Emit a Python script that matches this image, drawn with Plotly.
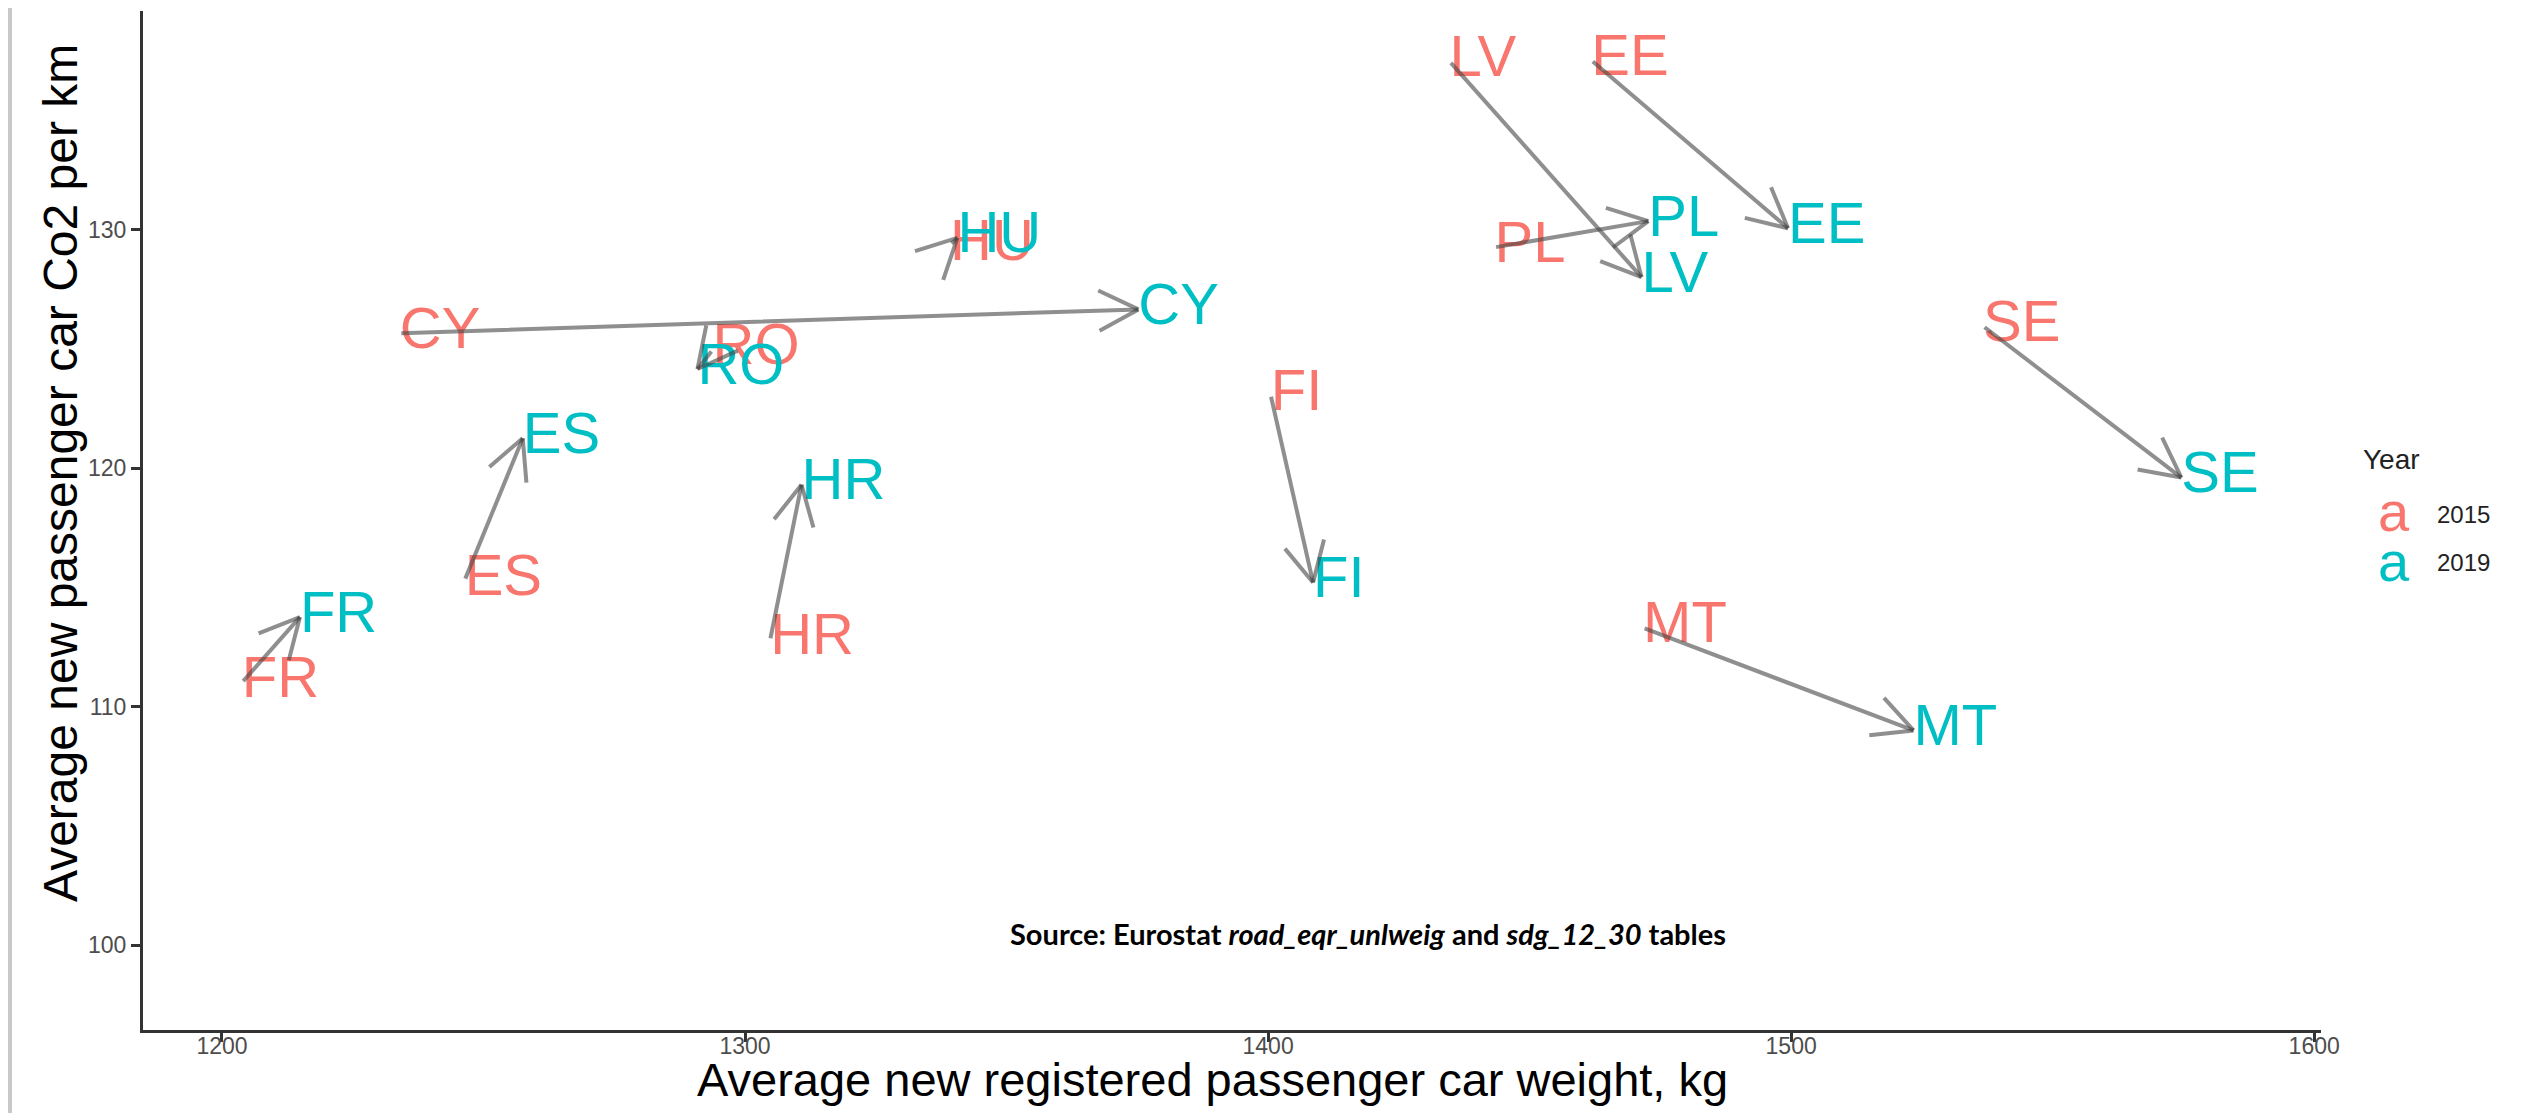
import math
import plotly.graph_objects as go

# ---- data ----
countries = ["FR", "ES", "CY", "RO", "HU", "HR", "FI", "LV", "EE", "PL", "SE", "MT"]
weight_2015 = [1203.8, 1246.4, 1234.0, 1293.8, 1339.2, 1304.8, 1400.5, 1434.7, 1461.8, 1443.3, 1536.7, 1471.7]
weight_2019 = [1214.9, 1257.5, 1375.2, 1290.9, 1340.6, 1310.8, 1408.6, 1471.4, 1499.4, 1472.7, 1574.6, 1523.4]
co2_2015 = [111.0, 115.3, 125.65, 124.95, 129.35, 112.8, 123.05, 137.05, 137.1, 129.25, 125.95, 113.3]
co2_2019 = [113.75, 121.25, 126.65, 124.15, 129.65, 119.3, 115.2, 128.0, 130.05, 130.35, 119.6, 109.0]
years = ["2015", "2019"]
year_colors = ["#F8766D", "#00BFC4"]
x_ticks = [1200, 1300, 1400, 1500, 1600]
y_ticks = [100, 110, 120, 130]
x_range = [1184.9, 1601.3]
y_range = [96.44, 139.16]
source_x, source_y = 1419.1, 100.5

FONT = "Liberation Sans, Arial, sans-serif"
L, T, PW, PH = 135, 3, 2178, 1019
W, H = 2526, 1113


def px(xpix):
    return (xpix - L) / PW


def py(ypix):
    return (T + PH - ypix) / PH


fig = go.Figure()

for yr, col, xs, ys in [(years[0], year_colors[0], weight_2015, co2_2015),
                        (years[1], year_colors[1], weight_2019, co2_2019)]:
    fig.add_trace(go.Scatter(
        x=xs, y=ys, mode="text", text=countries, name=yr,
        textposition="middle right",
        textfont=dict(family=FONT, size=58, color=col),
        showlegend=False, hoverinfo="skip", cliponaxis=False,
    ))

ARROW_COL = "rgba(70,70,70,0.6)"
ARROW_W = 4
BARB_LEN = 46
BARB_ANG = math.radians(27)
sx = PW / (x_range[1] - x_range[0])
sy = PH / (y_range[1] - y_range[0])

annotations = []
for i in range(len(countries)):
    # shaft
    annotations.append(dict(
        x=weight_2019[i], y=co2_2019[i], ax=weight_2015[i], ay=co2_2015[i],
        xref="x", yref="y", axref="x", ayref="y",
        text="", showarrow=True, arrowhead=0, arrowwidth=ARROW_W,
        arrowcolor=ARROW_COL, standoff=0, startstandoff=0,
    ))
    # open arrow head (two barbs), direction taken from the segment on screen
    dx = (weight_2019[i] - weight_2015[i]) * sx
    dy = -(co2_2019[i] - co2_2015[i]) * sy
    n = math.hypot(dx, dy) or 1.0
    bx, by = -dx / n, -dy / n
    for s in (1, -1):
        c, sn = math.cos(s * BARB_ANG), math.sin(s * BARB_ANG)
        rx, ry = bx * c - by * sn, bx * sn + by * c
        annotations.append(dict(
            x=weight_2019[i], y=co2_2019[i], xref="x", yref="y",
            ax=rx * BARB_LEN, ay=ry * BARB_LEN,
            text="", showarrow=True, arrowhead=0, arrowwidth=ARROW_W,
            arrowcolor=ARROW_COL, standoff=0, startstandoff=0,
        ))

# source note
annotations.append(dict(
    x=source_x, y=source_y, xref="x", yref="y", showarrow=False,
    text="<b>Source: Eurostat <i>road_eqr_unlweig</i> and <i>sdg_12_30</i> tables</b>",
    font=dict(family="Lato, 'Noto Sans', sans-serif", size=29, color="#000000"),
    xanchor="center", yanchor="middle",
))

# axis titles
annotations.append(dict(
    x=px(1204), y=py(1071), xref="paper", yref="paper", showarrow=False,
    text="Average new registered passenger car weight, kg",
    font=dict(family=FONT, size=47, color="#000000"),
    xanchor="center", yanchor="middle",
))
annotations.append(dict(
    x=px(52), y=py(465), xref="paper", yref="paper", showarrow=False,
    text="Average new passenger car Co2 per km", textangle=-90,
    font=dict(family=FONT, size=48, color="#000000"),
    xanchor="center", yanchor="middle",
))

# manual legend (ggplot style)
annotations.append(dict(x=px(2353), y=py(451), xref="paper", yref="paper", showarrow=False,
                        text="Year", xanchor="left", yanchor="middle",
                        font=dict(family=FONT, size=28, color="#222222")))
for yr, col, ypix in [(years[0], year_colors[0], 506), (years[1], year_colors[1], 555)]:
    annotations.append(dict(x=px(2386), y=py(ypix - 2), xref="paper", yref="paper", showarrow=False,
                            text="a", xanchor="center", yanchor="middle",
                            font=dict(family=FONT, size=56, color=col)))
    annotations.append(dict(x=px(2427), y=py(ypix), xref="paper", yref="paper", showarrow=False,
                            text=yr, xanchor="left", yanchor="middle",
                            font=dict(family=FONT, size=24, color="#222222")))

axis_common = dict(
    showgrid=False, zeroline=False, showline=True, linecolor="#333333", linewidth=3,
    ticks="outside", ticklen=9, tickwidth=2.5, tickcolor="#333333",
    tickfont=dict(family=FONT, size=23, color="#4D4D4D"), automargin=False,
)

fig.update_layout(
    width=W, height=H,
    margin=dict(l=L, r=W - L - PW, t=T, b=H - T - PH),
    paper_bgcolor="white", plot_bgcolor="white",
    showlegend=False,
    xaxis=dict(range=x_range, tickvals=x_ticks, ticklabelstandoff=-16, **axis_common),
    yaxis=dict(range=y_range, tickvals=y_ticks, **axis_common),
    annotations=annotations,
    shapes=[dict(type="line", xref="paper", yref="paper",
                 x0=px(2), x1=px(2), y0=py(H), y1=py(0),
                 line=dict(color="#C8C8C8", width=4))],
)

fig.write_html("out.html")
